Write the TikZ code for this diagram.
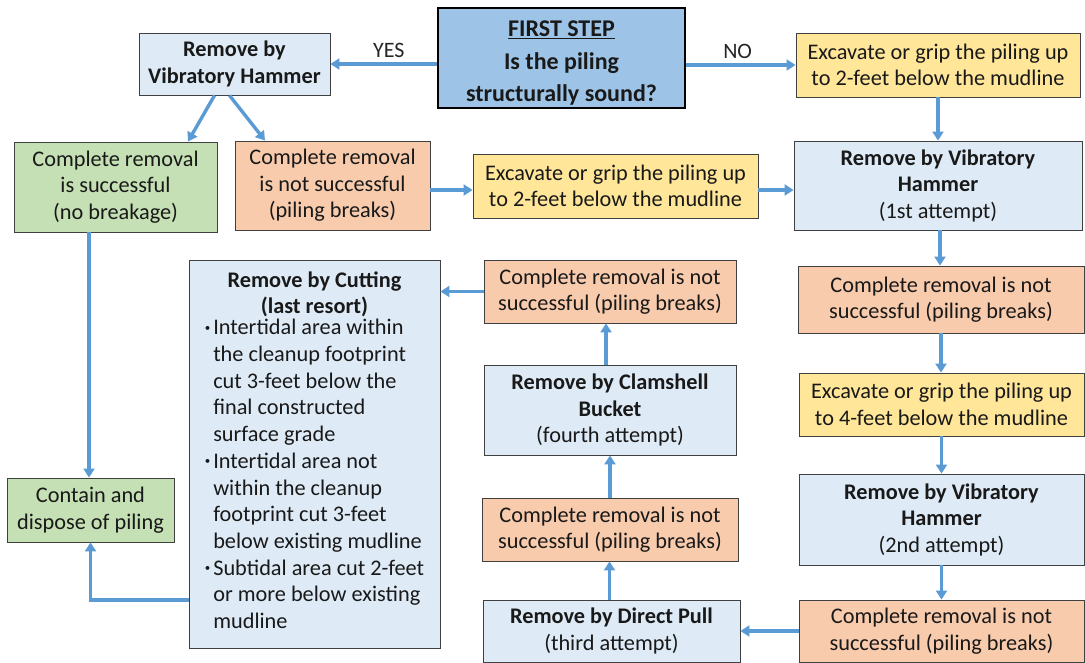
\documentclass[tikz,border=0pt]{standalone}
\usepackage{fontspec}
\setmainfont{Carlito}
\usetikzlibrary{arrows.meta,calc}
\definecolor{lblue}{HTML}{DEEBF7}
\definecolor{mblue}{HTML}{9DC3E6}
\definecolor{yel}{HTML}{FFE699}
\definecolor{ora}{HTML}{F8CBAD}
\definecolor{grn}{HTML}{C5E0B4}
\definecolor{arr}{HTML}{5B9BD5}
\definecolor{bord}{HTML}{404040}
\newcommand{\smbul}{\raisebox{3.5pt}{\fontsize{11}{11}\selectfont\textbullet}}
\tikzset{
  box/.style={draw=bord, line width=0.9pt, align=center, inner sep=1pt,
    font=\fontsize{22.3}{26.5}\selectfont, text=black!90},
  bluebox/.style={box, fill=lblue},
  yelbox/.style={box, fill=yel},
  orabox/.style={box, fill=ora},
  grnbox/.style={box, fill=grn},
  firstbox/.style={box, fill=mblue, draw=black, line width=2.6pt, font=\bfseries\fontsize{24}{32.5}\selectfont},
  flow/.style={draw=arr, line width=3.4pt, -{Triangle[length=9pt,width=11pt]}},
  lbl/.style={font=\fontsize{22}{26}\selectfont, text=black!85, inner sep=0pt},
  sz/.style 2 args={minimum width=#1pt, minimum height=#2pt}
}
\begin{document}
\begin{tikzpicture}[x=1pt,y=-1pt]
\useasboundingbox (0,0) rectangle (1085,663);
\fill[white] (0,0) rectangle (1085,663);
% nodes
\node[firstbox, sz={247}{100}] (first) at (561.5,58) {\rule{0pt}{26pt}\underline{FIRST STEP}\\Is the piling\\structurally sound?};
\node[bluebox, sz={191}{62}] (vh0) at (234.5,64) {\textbf{Remove by}\\\textbf{Vibratory Hammer}};
\node[yelbox, sz={284}{64}] (exc0) at (938,65) {Excavate or grip the piling up\\to 2-feet below the mudline};
\node[grnbox, sz={203}{90}] (succ) at (115.5,187) {Complete removal\\is successful\\(no breakage)};
\node[orabox, sz={195}{89}] (fail0) at (332.5,185.5) {Complete removal\\is not successful\\(piling breaks)};
\node[yelbox, sz={285}{64}] (exc1) at (615.5,186) {Excavate or grip the piling up\\to 2-feet below the mudline};
\node[bluebox, sz={288}{89}] (vh1) at (938,185.5) {\textbf{Remove by Vibratory}\\\textbf{Hammer}\\(1st attempt)};
\node[orabox, sz={286}{67}] (fail1) at (941,299.5) {Complete removal is not\\successful (piling breaks)};
\node[yelbox, sz={285}{63}] (exc2) at (941.5,404.5) {Excavate or grip the piling up\\to 4-feet below the mudline};
\node[bluebox, sz={285}{91}] (vh2) at (941.5,519.5) {\textbf{Remove by Vibratory}\\\textbf{Hammer}\\(2nd attempt)};
\node[orabox, sz={285}{62}] (fail2) at (941.5,631) {Complete removal is not\\successful (piling breaks)};
\node[bluebox, sz={257}{62}] (pull) at (611.5,631) {\textbf{Remove by Direct Pull}\\(third attempt)};
\node[orabox, sz={256}{63}] (fail3) at (610,529.5) {Complete removal is not\\successful (piling breaks)};
\node[bluebox, sz={252}{90}] (clam) at (610,410) {\textbf{Remove by Clamshell}\\\textbf{Bucket}\\(fourth attempt)};
\node[orabox, sz={252}{63}] (fail4) at (610,291.5) {Complete removal is not\\successful (piling breaks)};
\node[bluebox, sz={251}{388}, font=\fontsize{22.3}{26.7}\selectfont] (cut) at (314.5,454) {\textbf{Remove by Cutting}\\\textbf{(last resort)}\\[-2pt]
  \begin{tabular}{@{}l@{\hspace{3pt}}l@{}}
  \smbul & Intertidal area within\\
   & the cleanup footprint\\
   & cut 3-feet below the\\
   & final constructed\\
   & surface grade\\
  \smbul & Intertidal area not\\
   & within the cleanup\\
   & footprint cut 3-feet\\
   & below existing mudline\\
  \smbul & Subtidal area cut 2-feet\\
   & or more below existing\\
   & mudline
  \end{tabular}};
\node[grnbox, sz={167}{64}] (contain) at (90.5,510) {Contain and\\dispose of piling};
% connectors
\draw[flow] (first.west |- vh0.east) -- node[lbl, above=5pt, pos=0.45] {YES} (vh0.east);
\draw[flow] (first.east |- exc0.west) -- node[lbl, above=5pt, pos=0.47] {NO} (exc0.west);
\draw[flow] ([xshift=-20pt]vh0.south) -- ([xshift=72.5pt]succ.north);
\draw[flow] ([xshift=-5pt]vh0.south) -- ([xshift=-67.5pt]fail0.north);
\draw[flow] (exc0.south) -- (exc0.south |- vh1.north);
\coordinate (c190) at (0,190);
\draw[flow] (fail0.east |- c190) -- (exc1.west |- c190);
\draw[flow] (exc1.east |- c190) -- (vh1.west |- c190);
\draw[flow] ([xshift=2pt]vh1.south) -- ([xshift=2pt]vh1.south |- fail1.north);
\draw[flow] (fail1.south) -- (fail1.south |- exc2.north);
\draw[flow] (exc2.south) -- (exc2.south |- vh2.north);
\draw[flow] (vh2.south) -- (vh2.south |- fail2.north);
\draw[flow] (fail2.west) -- (fail2.west -| pull.east);
\draw[flow] ([xshift=-2pt]pull.north) -- ([xshift=-2pt]pull.north |- fail3.south);
\draw[flow] (fail3.north) -- (fail3.north |- clam.south);
\draw[flow] ([xshift=-4pt]clam.north) -- ([xshift=-4pt]clam.north |- fail4.south);
\draw[flow] (fail4.west) -- (fail4.west -| cut.east);
\draw[flow] ([xshift=-1.5pt]contain.north |- succ.south) -- ([xshift=-1.5pt]contain.north);
\coordinate (c600) at (0,600);
\draw[flow] (cut.west |- c600) -| (contain.south);
\end{tikzpicture}
\end{document}
